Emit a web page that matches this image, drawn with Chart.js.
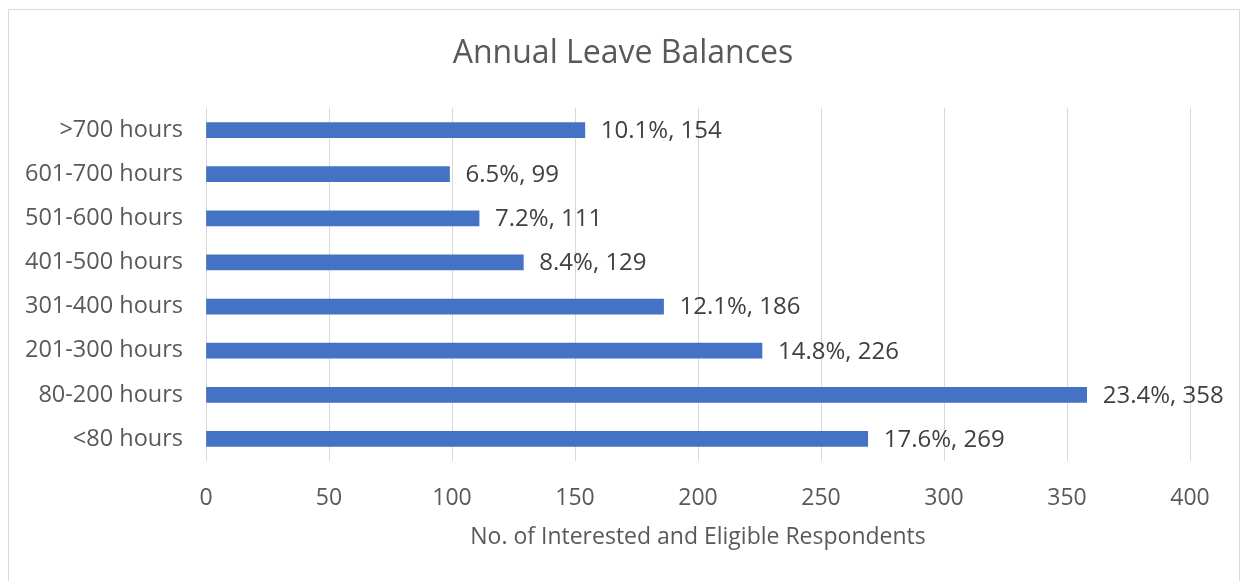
<!DOCTYPE html>
<html>
<head>
<meta charset="utf-8">
<script src="https://cdn.jsdelivr.net/npm/chart.js@4"></script>
<style>
  html, body { margin: 0; padding: 0; background: #fff; }
  #wrap { position: relative; width: 1243px; height: 581px; }
  #frame {
    position: absolute; left: 8px; top: 9px; width: 1230px; height: 580px;
    border: 1px solid #d9d9d9; pointer-events: none;
  }
</style>
</head>
<body>
<div id="wrap">
  <canvas id="chart" width="1243" height="581"></canvas>
  <div id="frame"></div>
</div>
<script>
// --- Data ---
const categories = ['>700 hours', '601-700 hours', '501-600 hours', '401-500 hours',
  '301-400 hours', '201-300 hours', '80-200 hours', '<80 hours'];
const respondents = [154, 99, 111, 129, 186, 226, 358, 269];
const percents = ['10.1%', '6.5%', '7.2%', '8.4%', '12.1%', '14.8%', '23.4%', '17.6%'];
const xTicks = [0, 50, 100, 150, 200, 250, 300, 350, 400];
const chartTitle = 'Annual Leave Balances';

const FONT = "'Open Sans', 'Noto Sans', sans-serif";
const BAR_BLUE = '#4472C4';
const TEXT_GREY = '#595959';

// Title centred on the whole frame, not just the padded chart box
const frameTitle = {
  id: 'frameTitle',
  afterDraw(chart) {
    const ctx = chart.ctx;
    ctx.save();
    ctx.font = '32px ' + FONT;
    ctx.fillStyle = TEXT_GREY;
    ctx.textAlign = 'center';
    ctx.textBaseline = 'middle';
    ctx.fillText(chartTitle, 623, 54);
    ctx.restore();
  },
};

// Bar value labels ("10.1%, 154")
const barLabels = {
  id: 'barLabels',
  afterDatasetsDraw(chart) {
    const ctx = chart.ctx;
    const meta = chart.getDatasetMeta(0);
    ctx.save();
    ctx.font = '24px ' + FONT;
    ctx.fillStyle = '#404040';
    ctx.textAlign = 'left';
    ctx.textBaseline = 'middle';
    meta.data.forEach((bar, i) => {
      ctx.fillText(percents[i] + ', ' + respondents[i], bar.x + 16, bar.y + 1);
    });
    ctx.restore();
  },
};

new Chart(document.getElementById('chart'), {
  type: 'bar',
  data: {
    labels: categories,
    datasets: [{
      data: respondents,
      backgroundColor: BAR_BLUE,
      barThickness: 15,
    }],
  },
  options: {
    indexAxis: 'y',
    responsive: false,
    animation: false,
    layout: { padding: { left: 0, right: 53, top: 108, bottom: 0 } },
    plugins: {
      legend: { display: false },
      tooltip: { enabled: false },
      title: { display: false },
    },
    scales: {
      x: {
        min: 0,
        max: 400,
        afterBuildTicks: (scale) => { scale.ticks = xTicks.map((v) => ({ value: v })); },
        afterFit: (scale) => { scale.height = 120; },
        grid: { color: '#d9d9d9', lineWidth: 1, drawTicks: false },
        border: { display: false },
        ticks: {
          color: TEXT_GREY,
          padding: 24,
          font: { family: FONT, size: 23 },
        },
        title: {
          display: true,
          text: 'No. of Interested and Eligible Respondents',
          color: TEXT_GREY,
          font: { family: FONT, size: 23, lineHeight: 1.2 },
          padding: { top: 0, bottom: 30 },
        },
      },
      y: {
        afterFit: (scale) => { scale.width = 206; },
        grid: { display: false, drawTicks: false },
        border: { display: false },
        ticks: {
          color: TEXT_GREY,
          padding: 23,
          font: { family: FONT, size: 23.5 },
        },
      },
    },
  },
  plugins: [barLabels, frameTitle],
});
</script>
</body>
</html>
